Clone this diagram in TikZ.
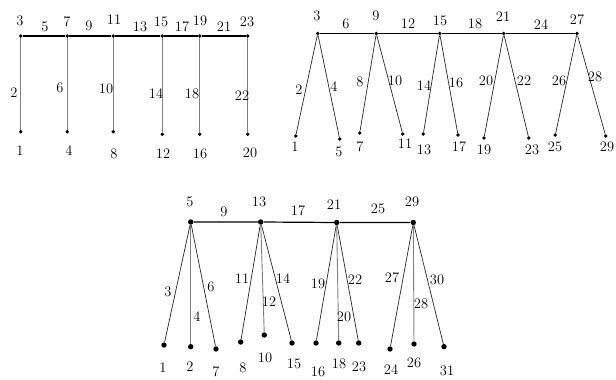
\documentclass[tikz,border=0pt]{standalone}
\usepackage{amsmath,amssymb}
\usepackage{tikz}
\usetikzlibrary{positioning}

\begin{document}
\begin{tikzpicture}[
  x=1pt, y=-1pt,
  every node/.style={font=\fontsize{14.5}{14.5}\selectfont, inner sep=0pt},
  dot/.style={circle, fill=black, minimum size=3.8pt},
  bigdot/.style={circle, fill=black, minimum size=5.4pt},
  spine/.style={draw, line width=1.2pt},
  leg/.style={draw, black!85, line width=0.7pt},
  upleg/.style={draw, black!50, line width=0.9pt}
]
\useasboundingbox (0,0) rectangle (616,380);

% first graph
\node[dot] (a3) at (20.7,36) {};
\node[dot] (a7) at (67.3,36) {};
\node[dot] (a11) at (113.3,36) {};
\node[dot] (a15) at (162.3,36) {};
\node[dot] (a19) at (199.7,36) {};
\node[dot] (a23) at (247.7,36) {};
\node[dot] (a1) at (20.7,131.7) {};
\node[dot] (a4) at (67.3,131.7) {};
\node[dot] (a8) at (113.3,131.7) {};
\node[dot] (a12) at (162.3,134.3) {};
\node[dot] (a16) at (199.7,134.3) {};
\node[dot] (a20) at (247.7,134.3) {};
\draw[spine] (a3) -- (a7) -- (a11) -- (a15) -- (a19) -- (a23);
\draw[upleg] (a3) -- (a1);
\draw[upleg] (a7) -- (a4);
\draw[upleg] (a11) -- (a8);
\draw[upleg] (a15) -- (a12);
\draw[upleg] (a19) -- (a16);
\draw[upleg] (a23) -- (a20);
\node (ta3) at (20,21) {3};
\node (ta7) at (67,22) {7};
\node (ta11) at (114,20) {11};
\node (ta15) at (161,22) {15};
\node (ta19) at (200,21) {19};
\node (ta23) at (247,22) {23};
\node (ea5) at (45,27) {5};
\node (ea9) at (89,26) {9};
\node (ea13) at (140,27) {13};
\node (ea17) at (182,27) {17};
\node (ea21) at (224,27) {21};
\node (ea2) at (14,93) {2};
\node (ea6) at (60,88) {6};
\node (ea10) at (106,89) {10};
\node (ea14) at (156,94) {14};
\node (ea18) at (192,94) {18};
\node (ea22) at (242,96) {22};
\node (ba1) at (20,151) {1};
\node (ba4) at (69,151) {4};
\node (ba8) at (114,154) {8};
\node (ba12) at (163,154) {12};
\node (ba16) at (200,154) {16};
\node (ba20) at (250,153) {20};

% second graph
\node[dot] (b3) at (317.7,33.5) {};
\node[dot] (b9) at (376.3,33.5) {};
\node[dot] (b15) at (439.7,33.5) {};
\node[dot] (b21) at (503.7,33.5) {};
\node[dot] (b27) at (577,33.5) {};
\node[dot] (b1) at (295.7,136) {};
\node[dot] (b5) at (339.7,139) {};
\node[dot] (b7) at (359.7,133) {};
\node[dot] (b11) at (402.7,134) {};
\node[dot] (b13) at (423.3,134) {};
\node[dot] (b17) at (458,135) {};
\node[dot] (b19) at (484,138) {};
\node[dot] (b23) at (528.7,138) {};
\node[dot] (b25) at (555.3,135) {};
\node[dot] (b29) at (605.7,136) {};
\draw[spine] (b3) -- (b9) -- (b15) -- (b21) -- (b27);
\draw[leg] (b1) -- (b3) -- (b5);
\draw[leg] (b7) -- (b9) -- (b11);
\draw[leg] (b13) -- (b15) -- (b17);
\draw[leg] (b19) -- (b21) -- (b23);
\draw[leg] (b25) -- (b27) -- (b29);
\node (tb3) at (317,16) {3};
\node (tb9) at (376,16) {9};
\node (tb15) at (440,21) {15};
\node (tb21) at (503,17) {21};
\node (tb27) at (577,20) {27};
\node (eb6) at (346,24) {6};
\node (eb12) at (408,24) {12};
\node (eb18) at (475,24) {18};
\node (eb24) at (541,25) {24};
\node (eb2) at (299,90) {2};
\node (eb4) at (334,87) {4};
\node (eb8) at (360,82) {8};
\node (eb10) at (395,81) {10};
\node (eb14) at (424,86) {14};
\node (eb16) at (456,83) {16};
\node (eb20) at (486,81) {20};
\node (eb22) at (524,81) {22};
\node (eb26) at (559,81) {26};
\node (eb28) at (595,77) {28};
\node (bb1) at (295,147) {1};
\node (bb5) at (339,152) {5};
\node (bb7) at (360,147) {7};
\node (bb11) at (405,144) {11};
\node (bb13) at (424,150) {13};
\node (bb17) at (459,147) {17};
\node (bb19) at (484,150) {19};
\node (bb23) at (532,150) {23};
\node (bb25) at (555,147) {25};
\node (bb29) at (607,147) {29};

% third graph
\node[bigdot] (c5) at (190.7,222) {};
\node[bigdot] (c13) at (260.7,222) {};
\node[bigdot] (c21) at (336.7,222.5) {};
\node[bigdot] (c29) at (413.3,222.5) {};
\node[bigdot] (c1) at (164,345) {};
\node[bigdot] (c2) at (190.7,346.7) {};
\node[bigdot] (c7) at (216,349) {};
\node[bigdot] (c8) at (240.7,342) {};
\node[bigdot] (c10) at (264.3,335) {};
\node[bigdot] (c15) at (292,343) {};
\node[bigdot] (c16) at (316,343) {};
\node[bigdot] (c18) at (338.7,343) {};
\node[bigdot] (c23) at (358.7,343) {};
\node[bigdot] (c24) at (390,349) {};
\node[bigdot] (c26) at (414,344) {};
\node[bigdot] (c31) at (444,346.7) {};
\draw[spine] (c5) -- (c13) -- (c21) -- (c29);
\draw[leg] (c1) -- (c5) -- (c7);
\draw[upleg] (c5) -- (c2);
\draw[leg] (c8) -- (c13) -- (c15);
\draw[upleg] (c13) -- (c10);
\draw[leg] (c16) -- (c21) -- (c23);
\draw[upleg] (c21) -- (c18);
\draw[leg] (c24) -- (c29) -- (c31);
\draw[upleg] (c29) -- (c26);
\node (tc5) at (190,202) {5};
\node (tc13) at (259,202) {13};
\node (tc21) at (334,205) {21};
\node (tc29) at (412,202) {29};
\node (ec9) at (224,212) {9};
\node (ec17) at (298,211) {17};
\node (ec25) at (378,209) {25};
\node (ec3) at (168,292) {3};
\node (ec4) at (197,317) {4};
\node (ec6) at (211,287) {6};
\node (ec11) at (242,279) {11};
\node (ec12) at (269,302) {12};
\node (ec14) at (283,279) {14};
\node (ec19) at (318,284) {19};
\node (ec20) at (344,317) {20};
\node (ec22) at (355,280) {22};
\node (ec27) at (392,278) {27};
\node (ec28) at (421,304) {28};
\node (ec30) at (437,280) {30};
\node (bc1) at (163,368) {1};
\node (bc2) at (190,367) {2};
\node (bc7) at (216,372) {7};
\node (bc8) at (243,368) {8};
\node (bc10) at (265,358) {10};
\node (bc15) at (294,364) {15};
\node (bc16) at (318,372) {16};
\node (bc18) at (339,364) {18};
\node (bc23) at (359,367) {23};
\node (bc24) at (391,370) {24};
\node (bc26) at (414,363) {26};
\node (bc31) at (447,371) {31};
\end{tikzpicture}
\end{document}
